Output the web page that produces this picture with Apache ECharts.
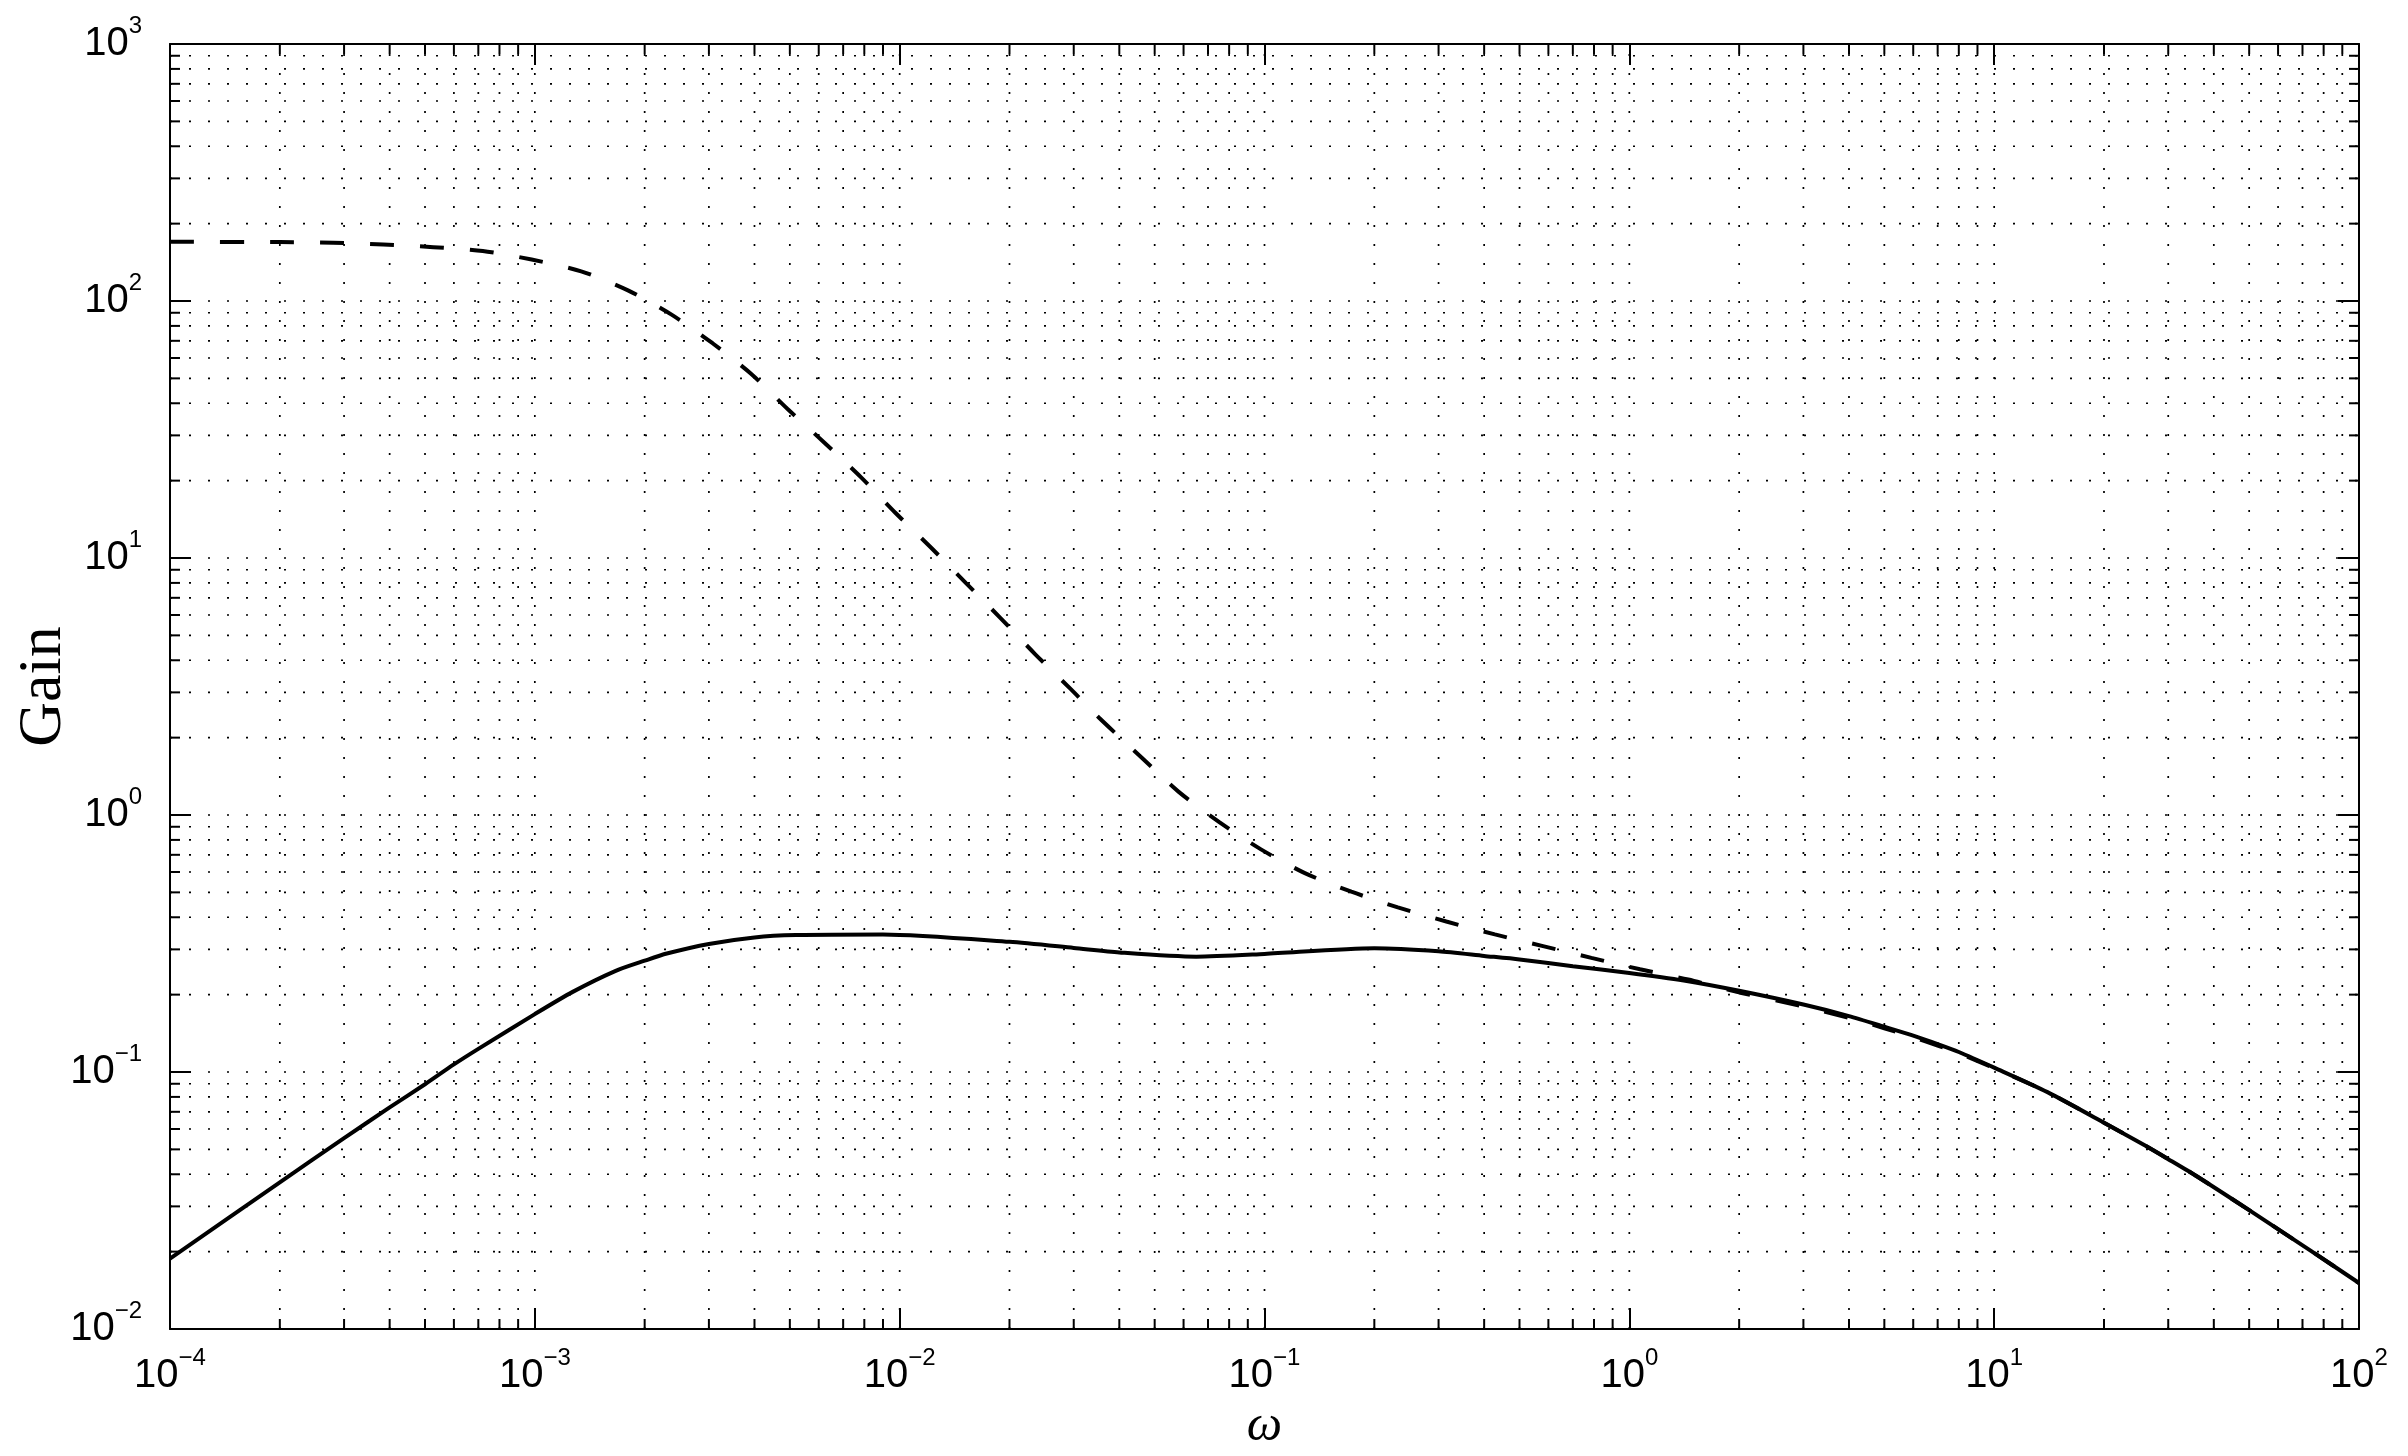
<!DOCTYPE html>
<html><head><meta charset="utf-8">
<script src="https://cdn.jsdelivr.net/npm/echarts@6/dist/echarts.min.js"></script>
<style>html,body{margin:0;padding:0;background:#fff}#chart{width:2408px;height:1456px}</style>
</head><body><div id="chart"></div>
<script>
// ---- tick labels / axes ----
const xTickExponents = [-4, -3, -2, -1, 0, 1, 2];
const yTickExponents = [-2, -1, 0, 1, 2, 3];
const minorMultipliers = [2, 3, 4, 5, 6, 7, 8, 9];
const xAxisTitle = 'ω';
const yAxisTitle = 'Gain';

// ---- series: solid curve ----
const omegaSolid = [1e-4, 2e-4, 3e-4, 4e-4, 5e-4, 6e-4, 7e-4, 1e-3, 1.27e-3, 1.66e-3, 2e-3, 2.3e-3, 3e-3, 4e-3, 5.2e-3, 9e-3, 0.02, 0.03, 0.04, 0.065, 0.1, 0.2, 0.3, 0.4, 0.5, 0.7, 1, 1.41, 2, 3, 4, 5, 6, 7, 8, 10, 14, 20, 26, 30, 36, 50, 74, 100];
const gainSolid  = [0.0188, 0.0372, 0.0553, 0.0728, 0.0896, 0.107, 0.123, 0.168, 0.205, 0.247, 0.271, 0.289, 0.315, 0.334, 0.341, 0.343, 0.321, 0.304, 0.292, 0.281, 0.288, 0.303, 0.295, 0.283, 0.274, 0.258, 0.243, 0.227, 0.207, 0.183, 0.165, 0.150, 0.1385, 0.1284, 0.1196, 0.104, 0.0835, 0.0635, 0.0516, 0.0458, 0.0392, 0.0290, 0.0201, 0.0151];

// ---- series: dashed curve ----
const omegaDashed = [1e-4, 2e-4, 2.8e-4, 3.84e-4, 5.27e-4, 7.2e-4, 9.8e-4, 1.34e-3, 1.8e-3, 2.37e-3, 3.07e-3, 3.92e-3, 4.93e-3, 6.22e-3, 7.84e-3, 9.73e-3, 1.22e-2, 1.52e-2, 1.89e-2, 2.35e-2, 2.95e-2, 3.52e-2, 0.0461, 0.0582, 0.075, 0.0978, 0.129, 0.173, 0.232, 0.315, 0.428, 0.58, 0.787, 1.07, 1.45, 2, 3, 4, 5, 6, 7, 8, 10, 14, 20, 26, 30, 36, 50, 74, 100];
const gainDashed  = [170, 169.5, 168.5, 166, 162, 156.5, 145, 130.5, 110, 88.5, 68.5, 52, 38, 28.1, 20.6, 15.0, 10.96, 7.98, 5.84, 4.23, 3.08, 2.39, 1.67, 1.23, 0.94, 0.735, 0.594, 0.503, 0.437, 0.385, 0.343, 0.309, 0.278, 0.251, 0.229, 0.204, 0.180, 0.1625, 0.148, 0.1365, 0.1268, 0.1183, 0.1035, 0.0835, 0.0635, 0.0516, 0.0458, 0.0392, 0.0290, 0.0201, 0.0151];

const X_MIN = Math.pow(10, xTickExponents[0]);
const X_MAX = Math.pow(10, xTickExponents[xTickExponents.length - 1]);
const Y_MIN = Math.pow(10, yTickExponents[0]);
const Y_MAX = Math.pow(10, yTickExponents[yTickExponents.length - 1]);

function gridValues(exps) {
  const out = [];
  for (let i = 0; i < exps.length - 1; i++) {
    if (i > 0) out.push({ v: Math.pow(10, exps[i]), minor: 0 });
    for (const m of minorMultipliers) out.push({ v: m * Math.pow(10, exps[i]), minor: 1 });
  }
  return out;
}
const xGrid = gridValues(xTickExponents);
const yGrid = gridValues(yTickExponents);

function expLabel(value) {
  const e = Math.round(Math.log10(value));
  return '{b|10}{s|' + (e < 0 ? '\u2212' + (-e) : String(e)) + '}';
}
const labelRich = {
  b: { fontSize: 40, fontFamily: 'Liberation Sans', lineHeight: 80, height: 80, verticalAlign: 'middle', color: '#000' },
  s: { fontSize: 24, fontFamily: 'Liberation Sans', lineHeight: 80, height: 45, padding: [0, 0, 35, 0], verticalAlign: 'middle', color: '#000' }
};

const DOT = { stroke: '#000', lineWidth: 1.7, lineDash: [2, 17] };
const TICK = { stroke: '#000', lineWidth: 2 };
const MINOR_LEN = 10;

function renderV(params, api) {
  const v = api.value(0), minor = api.value(2);
  const b = api.coord([v, Y_MIN]), t = api.coord([v, Y_MAX]);
  const ch = [{ type: 'line', shape: { x1: b[0], y1: b[1], x2: t[0], y2: t[1] }, style: DOT }];
  if (minor) {
    ch.push({ type: 'line', shape: { x1: b[0], y1: b[1], x2: b[0], y2: b[1] - MINOR_LEN }, style: TICK });
    ch.push({ type: 'line', shape: { x1: t[0], y1: t[1], x2: t[0], y2: t[1] + MINOR_LEN }, style: TICK });
  }
  return { type: 'group', children: ch };
}
function renderH(params, api) {
  const v = api.value(1), minor = api.value(2);
  const l = api.coord([X_MIN, v]), r = api.coord([X_MAX, v]);
  const ch = [{ type: 'line', shape: { x1: l[0], y1: l[1], x2: r[0], y2: r[1] }, style: DOT }];
  if (minor) {
    ch.push({ type: 'line', shape: { x1: l[0], y1: l[1], x2: l[0] + MINOR_LEN, y2: l[1] }, style: TICK });
    ch.push({ type: 'line', shape: { x1: r[0], y1: r[1], x2: r[0] - MINOR_LEN, y2: r[1] }, style: TICK });
  }
  return { type: 'group', children: ch };
}

function logAxis(extra) {
  return Object.assign({
    type: 'log', logBase: 10, interval: 1,
    axisLine: { show: true, onZero: false, lineStyle: { color: '#000', width: 2 } },
    axisTick: { show: true, inside: true, length: 21, lineStyle: { color: '#000', width: 2 } },
    splitLine: { show: false },
    minorTick: { show: false },
    minorSplitLine: { show: false }
  }, extra);
}

const chart = echarts.init(document.getElementById('chart'), null, { renderer: 'canvas' });
chart.setOption({
  animation: false,
  backgroundColor: '#fff',
  grid: { left: 170, right: 49, top: 44, bottom: 127, containLabel: false, outerBoundsMode: 'none' },
  xAxis: [
    logAxis({
      position: 'bottom', min: X_MIN, max: X_MAX,
      axisLabel: { show: true, margin: 7, formatter: expLabel, rich: labelRich, showMinLabel: true, showMaxLabel: true, hideOverlap: false },
      name: xAxisTitle, nameLocation: 'middle', nameGap: 73, nameMoveOverlap: false,
      nameTextStyle: { fontFamily: 'Liberation Serif', fontStyle: 'italic', fontSize: 50, color: '#000' }
    }),
    logAxis({ position: 'top', min: X_MIN, max: X_MAX, axisLabel: { show: false } })
  ],
  yAxis: [
    logAxis({
      position: 'left', min: Y_MIN, max: Y_MAX,
      axisLabel: { show: true, margin: 28, formatter: expLabel, rich: labelRich, showMinLabel: true, showMaxLabel: true, hideOverlap: false },
      name: yAxisTitle, nameLocation: 'middle', nameGap: 95, nameMoveOverlap: false,
      nameTextStyle: { fontFamily: 'Liberation Serif', fontSize: 62, color: '#000' }
    }),
    logAxis({ position: 'right', min: Y_MIN, max: Y_MAX, axisLabel: { show: false } })
  ],
  series: [
    {
      type: 'custom', name: 'vgrid', silent: true, z: 1, xAxisIndex: 0, yAxisIndex: 0,
      renderItem: renderV, data: xGrid.map(g => [g.v, Y_MIN, g.minor])
    },
    {
      type: 'custom', name: 'hgrid', silent: true, z: 1, xAxisIndex: 0, yAxisIndex: 0,
      renderItem: renderH, data: yGrid.map(g => [X_MIN, g.v, g.minor])
    },
    {
      type: 'line', name: 'solid', xAxisIndex: 0, yAxisIndex: 0, z: 3,
      showSymbol: false, smooth: 0.25, silent: true,
      lineStyle: { color: '#000', width: 4, type: 'solid' },
      data: omegaSolid.map((w, i) => [w, gainSolid[i]])
    },
    {
      type: 'line', name: 'dashed', xAxisIndex: 0, yAxisIndex: 0, z: 4,
      showSymbol: false, smooth: 0.25, silent: true,
      lineStyle: { color: '#000', width: 4, type: [24, 26] },
      data: omegaDashed.map((w, i) => [w, gainDashed[i]])
    }
  ]
});
</script>
</body></html>
